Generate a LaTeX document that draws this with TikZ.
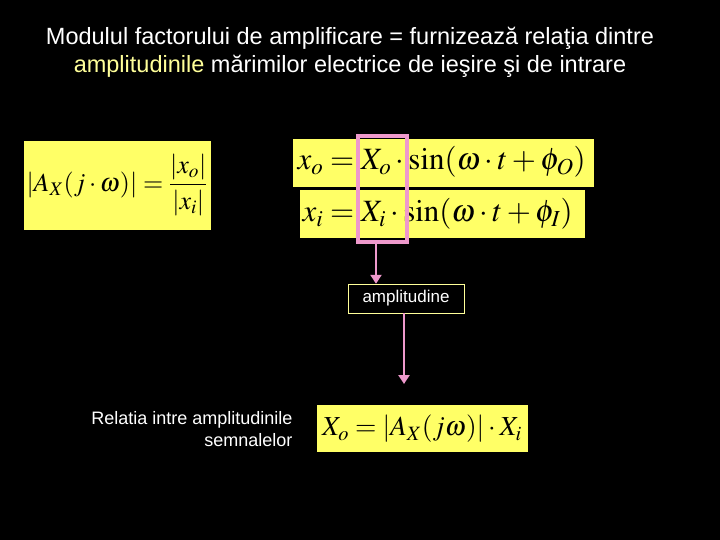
\documentclass[tikz,border=0pt]{standalone}
\usepackage{amsmath}
\usepackage{mathptmx}
\usepackage{fontspec}
\setmainfont{Liberation Sans}
\usetikzlibrary{arrows.meta}
\definecolor{yel}{HTML}{FFFF66}
\definecolor{pinkc}{HTML}{EE99CC}
\definecolor{ltyel}{HTML}{FFFF99}
\begin{document}
\begin{tikzpicture}[x=1pt,y=-1pt,
  mathtxt/.style={font=\fontsize{26}{30}\selectfont},
  arr/.style={draw=pinkc,line width=2.5pt,-{Triangle[length=9pt,width=11pt]}}]
\fill[black] (0,0) rectangle (720,540);
\useasboundingbox (0,0) rectangle (720,540);
\node[text=white,align=center,font=\fontsize{23.5}{28}\selectfont] (title) at (350,52)
  {Modulul factorului de amplificare = furnizează relaţia dintre\\
   \textcolor{ltyel}{amplitudinile} mărimilor electrice de ieşire şi de intrare};
\fill[yel] (24,141) rectangle (211,230);
\node[mathtxt] (ax) at (117,185) {$\left|A_X(j\cdot\omega)\right| = \dfrac{|x_o|}{|x_i|}$};
\fill[yel] (293,139) rectangle (594,187);
\fill[yel] (300,190) rectangle (585,238);
\node[mathtxt,font=\fontsize{31}{34}\selectfont,anchor=west] (xo) at (294,162) {$x_o = X_o\cdot\sin(\omega\cdot t+\phi_O)$};
\node[mathtxt,font=\fontsize{31}{34}\selectfont,anchor=west] (xi) at (299,214) {$x_i = X_i\cdot\sin(\omega\cdot t+\phi_I)$};
\draw[pinkc,line width=4pt] (358,136) rectangle (407,242);
\coordinate (pk) at (376,244);
\node[draw=ltyel,fill=black,text=white,font=\fontsize{17}{20}\selectfont,
  minimum width=116pt,minimum height=29pt,inner sep=0pt] (amp) at (406,298.5) {amplitudine};
\draw[arr] (pk) -- (pk |- amp.north);
\coordinate (bt) at (404,384);
\draw[arr] (amp.south -| bt) -- (bt);
\fill[yel] (317,405) rectangle (528,452);
\node[mathtxt,font=\fontsize{27.5}{30}\selectfont] (res) at (422,429) {$X_o = \left|A_X(j\omega)\right|\cdot X_i$};
\node[text=white,align=right,anchor=east,font=\fontsize{18}{22}\selectfont] (rel) at (296,429)
  {Relatia intre amplitudinile\\ semnalelor};
\end{tikzpicture}
\end{document}
